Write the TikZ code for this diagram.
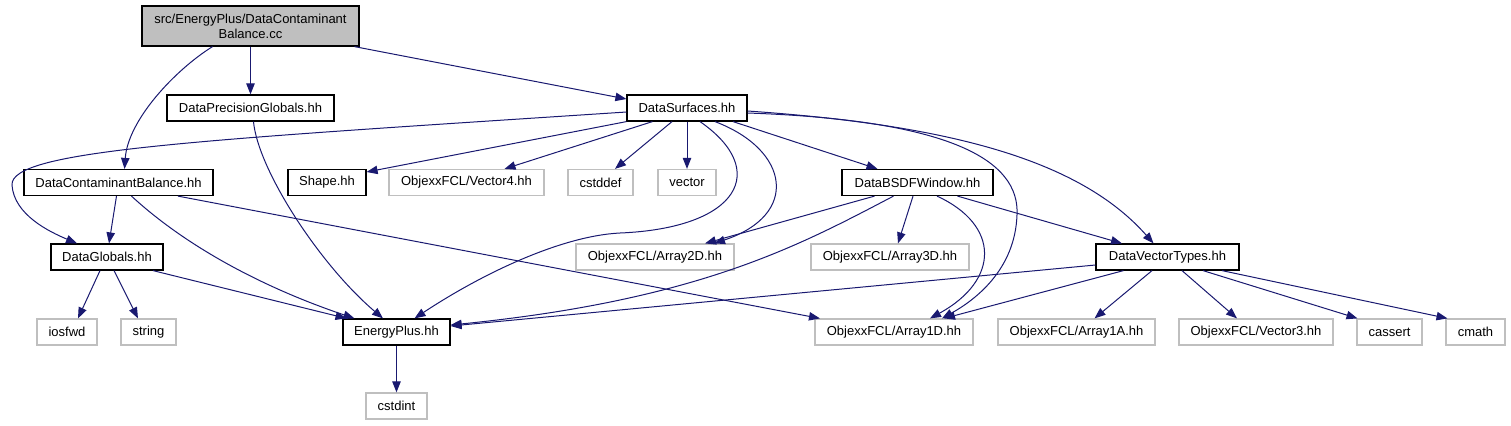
\documentclass[tikz,border=0pt]{standalone}
\usepackage{fontspec}
\setmainfont{Liberation Sans}
\usetikzlibrary{arrows.meta}
\definecolor{edgeC}{RGB}{25,25,112}
\definecolor{sysC}{RGB}{191,191,191}
\definecolor{rootC}{RGB}{191,191,191}

\begin{document}
\begin{tikzpicture}[x=0.5pt,y=-0.5pt,
  hh/.style={
    draw=black, line width=0.6pt, fill=white,
    minimum height=13pt, inner sep=0pt,
    font=\fontsize{6.5}{7.5}\selectfont, align=center
  },
  sys/.style={hh, draw=sysC},
  a/.style={-{Triangle[length=5.5pt,width=4.2pt]},edgeC,line width=0.5pt}
]
\useasboundingbox (0,0) rectangle (1511,425);
% Row 0
\node[hh,fill=rootC,minimum width=108.5pt,minimum height=20pt] (root) at (250.5,26)
  {src/EnergyPlus/DataContaminant\\Balance.cc};

% Row 1
\node[hh,minimum width=83.5pt] (dpg) at (250.5,108) {DataPrecisionGlobals.hh};
\node[hh,minimum width=60pt] (dsurf) at (687,108) {DataSurfaces.hh};

% Row 2
\node[hh,minimum width=94.5pt] (dcb) at (118.5,182.5) {DataContaminantBalance.hh};
\node[hh,minimum width=39pt] (shape) at (327,182.5) {Shape.hh};
\node[sys,minimum width=77.5pt] (vec4) at (466.5,182.5) {ObjexxFCL/Vector4.hh};
\node[sys,minimum width=32.5pt] (cstddef) at (600.5,182.5) {cstddef};
\node[sys,minimum width=29pt] (vector) at (687,182.5) {vector};
\node[hh,minimum width=75.5pt] (bsdf) at (917.5,182.5) {DataBSDFWindow.hh};

% Row 3
\node[hh,minimum width=56pt] (dglob) at (107,257) {DataGlobals.hh};
\node[sys,minimum width=79pt] (a2d) at (655,257) {ObjexxFCL/Array2D.hh};
\node[sys,minimum width=79pt] (a3d) at (890,257) {ObjexxFCL/Array3D.hh};
\node[hh,minimum width=71.5pt] (dvt) at (1167.5,257) {DataVectorTypes.hh};

% Row 4
\node[sys,minimum width=30pt] (iosfwd) at (67,332) {iosfwd};
\node[sys,minimum width=27.5pt] (string) at (148.5,332) {string};
\node[hh,minimum width=53.5pt] (eplus) at (396.5,332) {EnergyPlus.hh};
\node[sys,minimum width=79pt] (a1d) at (894,332) {ObjexxFCL/Array1D.hh};
\node[sys,minimum width=78.5pt] (a1a) at (1076.5,332) {ObjexxFCL/Array1A.hh};
\node[sys,minimum width=77pt] (vec3) at (1256,332) {ObjexxFCL/Vector3.hh};
\node[sys,minimum width=32.5pt] (cassert) at (1389.5,332) {cassert};
\node[sys,minimum width=29.5pt] (cmath) at (1475.5,332) {cmath};

% Row 5
\node[sys,minimum width=30.5pt] (cstdint) at (396.5,406) {cstdint};

% from the root
\draw[a] ([xshift=-19pt]root.south) .. controls (175,70) and (128,120) .. ([xshift=3pt]dcb.north);
\draw[a] (root.south)--(dpg.north);
\draw[a] ([xshift=52pt]root.south)--([yshift=4.5pt]dsurf.west);
\draw[a] ([xshift=1.5pt]dpg.south) .. controls (258,170) and (320,265) .. ([xshift=-6.75pt]eplus.north);

% from DataSurfaces
\draw[a] ([yshift=-2pt]dsurf.west) .. controls (200,140) and (10,150) .. (12,185)
  .. controls (14,215) and (50,232) .. ([xshift=-15pt]dglob.north);
\draw[a] (dsurf.south west)--([yshift=5.25pt]shape.east);
\draw[a] ([xshift=13pt]dsurf.south west)--([xshift=19pt]vec4.north);
\draw[a] ([xshift=-7.5pt]dsurf.south)--([xshift=7.25pt]cstddef.north);
\draw[a] (dsurf.south)--(vector.north);
\draw[a] ([xshift=6.5pt]dsurf.south) .. controls (770,170) and (740,228) .. (620,233)
  .. controls (560,236) and (480,275) .. ([xshift=9pt]eplus.north);
\draw[a] ([xshift=14pt]dsurf.south) .. controls (790,150) and (800,215) .. ([xshift=29.5pt]a2d.north);
\draw[a] ([xshift=23pt]dsurf.south)--([xshift=-20pt]bsdf.north);
\draw[a] ([yshift=-2.5pt]dsurf.east) .. controls (950,120) and (1020,160) .. (1017,215)
  .. controls (1015,270) and (975,300) .. ([xshift=24pt]a1d.north);
\draw[a] ([yshift=-1.5pt]dsurf.east) .. controls (950,125) and (1080,160) .. ([xshift=-7pt]dvt.north);

% from DataContaminantBalance.hh
\draw[a] ([xshift=-1pt]dcb.south)--([xshift=1pt]dglob.north);
\draw[a] ([xshift=6.5pt]dcb.south) .. controls (190,250) and (270,290) .. ([xshift=-21pt]eplus.north);
\draw[a] ([xshift=29.75pt]dcb.south)--([xshift=-37pt]a1d.north);

% from DataGlobals.hh
\draw[a] ([xshift=-3.5pt]dglob.south)--([xshift=5.5pt]iosfwd.north);
\draw[a] ([xshift=3.5pt]dglob.south)--([xshift=-5.25pt]string.north);
\draw[a] ([xshift=23pt]dglob.south)--([xshift=-25pt]eplus.north);
\draw[a] (eplus.south)--(cstdint.north);

% from DataBSDFWindow.hh
\draw[a] ([xshift=-21.5pt]bsdf.south)--([xshift=25pt]a2d.north);
\draw[a] ([xshift=-12pt]bsdf.south) .. controls (800,245) and (700,300) .. ([yshift=3.5pt]eplus.east);
\draw[a] ([xshift=-2.25pt]bsdf.south)--([xshift=4pt]a3d.north);
\draw[a] ([xshift=9.75pt]bsdf.south) .. controls (1000,225) and (1000,280) .. ([xshift=18pt]a1d.north);
\draw[a] ([xshift=20pt]bsdf.south)--([xshift=-22.75pt]dvt.north);

% from DataVectorTypes.hh
\draw[a] ([yshift=-4pt]dvt.west)--([yshift=3pt]eplus.east);
\draw[a] ([xshift=-22pt]dvt.south)--([xshift=25pt]a1d.north);
\draw[a] ([xshift=-7.75pt]dvt.south)--([xshift=9pt]a1a.north);
\draw[a] ([xshift=7.25pt]dvt.south)--([xshift=-9.5pt]vec3.north);
\draw[a] ([xshift=17.75pt]dvt.south)--([xshift=-16pt]cassert.north);
\draw[a] ([xshift=27.25pt]dvt.south)--([xshift=-14pt]cmath.north);
\end{tikzpicture}
\end{document}
